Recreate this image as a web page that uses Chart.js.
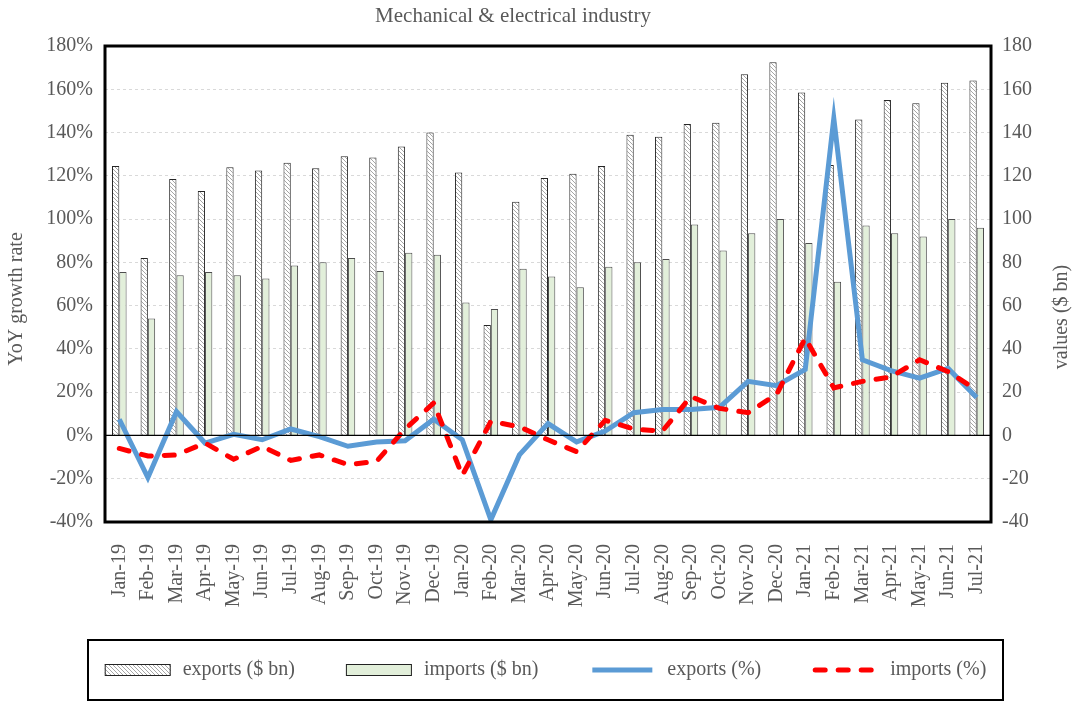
<!DOCTYPE html>
<html>
<head>
<meta charset="utf-8">
<title>Mechanical & electrical industry</title>
<script src="https://cdn.jsdelivr.net/npm/chart.js@4/dist/chart.umd.min.js"></script>
<style>
  body { margin: 0; background: #fff; }
  canvas { display: block; }
</style>
</head>
<body>
<canvas id="chart" width="1081" height="701"></canvas>
<script>
// Data
const months = ['Jan-19', 'Feb-19', 'Mar-19', 'Apr-19', 'May-19', 'Jun-19', 'Jul-19', 'Aug-19', 'Sep-19', 'Oct-19', 'Nov-19', 'Dec-19',
  'Jan-20', 'Feb-20', 'Mar-20', 'Apr-20', 'May-20', 'Jun-20', 'Jul-20', 'Aug-20', 'Sep-20', 'Oct-20', 'Nov-20', 'Dec-20',
  'Jan-21', 'Feb-21', 'Mar-21', 'Apr-21', 'May-21', 'Jun-21', 'Jul-21']
const exportsBn = [124.5, 82, 118.5, 113, 124, 122.5, 126, 123.5, 129, 128.5, 133.5, 140, 121.5, 51, 108, 119, 121, 124.5, 139, 138, 144, 144.5, 167, 172.5, 158.5, 125, 146, 155, 153.5, 163, 164]
const importsBn = [75.5, 54, 74, 75.5, 74, 72.5, 78.5, 80, 82, 76, 84.5, 83.5, 61.5, 58.5, 77, 73.5, 68.5, 78, 80, 81.5, 97.5, 85.5, 93.5, 100, 89, 71, 97, 93.5, 92, 100, 96]
const exportsPct = [7.5, -19.5, 11, -3.5, 0.5, -2, 3, -0.5, -5, -3, -2.5, 7.5, -2, -39, -9, 5.5, -3, 2, 10.5, 12, 12, 13, 25, 23, 30.5, 146.5, 35, 30, 26.5, 31, 17.5]
const importsPct = [-6, -9.5, -9, -3.5, -11, -5, -11.5, -9, -13.5, -12, 3, 15, -18.5, 6.5, 4, -2, -7.5, 7, 3, 2, 18, 12.5, 10.5, 19, 45, 22, 25, 27, 35, 29.5, 21]

const axisMin = -40
const axisMax = 180
const axisStep = 20

const FONT = "'Liberation Serif', 'Times New Roman', serif"
const GREY = '#595959'

// diagonal hatch for the exports bars
function hatchPattern() {
  const c = document.createElement('canvas')
  c.width = 4
  c.height = 4
  const g = c.getContext('2d')
  g.fillStyle = '#fff'
  g.fillRect(0, 0, 4, 4)
  g.strokeStyle = '#a6a6a6'
  g.lineWidth = 1
  g.beginPath()
  g.moveTo(-1, -1); g.lineTo(5, 5)
  g.moveTo(-1, 3); g.lineTo(1, 5)
  g.moveTo(3, -1); g.lineTo(5, 1)
  g.stroke()
  return g.createPattern(c, 'repeat')
}
const hatch = hatchPattern()

// title, axis titles, plot frame and zero line
const framePlugin = {
  id: 'frame',
  afterDraw(chart) {
    const ctx = chart.ctx
    const area = chart.chartArea
    const y0 = chart.scales.yPct.getPixelForValue(0)
    ctx.save()
    ctx.strokeStyle = '#000'
    ctx.lineWidth = 1.2
    ctx.beginPath()
    ctx.moveTo(area.left, y0)
    ctx.lineTo(area.right, y0)
    ctx.stroke()
    ctx.lineWidth = 3
    ctx.strokeRect(area.left, area.top, area.right - area.left, area.bottom - area.top)

    ctx.fillStyle = GREY
    ctx.font = '21px ' + FONT
    ctx.textAlign = 'center'
    ctx.textBaseline = 'middle'
    ctx.fillText('Mechanical & electrical industry', 513, 16)

    // both axis titles read bottom to top
    ctx.font = '20px ' + FONT
    const titles = [['YoY growth rate', 17, 299], ['values ($ bn)', 1062, 317]]
    titles.forEach(t => {
      ctx.save()
      ctx.translate(t[1], t[2])
      ctx.rotate(-Math.PI / 2)
      ctx.fillText(t[0], 0, 0)
      ctx.restore()
    })
    ctx.restore()
  },
  beforeDatasetsDraw(chart) {
    // keep lines inside the frame
    const area = chart.chartArea
    chart.ctx.save()
    chart.ctx.beginPath()
    chart.ctx.rect(area.left, area.top, area.right - area.left, area.bottom - area.top)
    chart.ctx.clip()
  },
  afterDatasetsDraw(chart) {
    chart.ctx.restore()
  }
}

// boxed legend under the chart, styled from the datasets
const legendPlugin = {
  id: 'boxLegend',
  afterDraw(chart) {
    const ctx = chart.ctx
    const area = chart.chartArea
    const box = {left: area.left - 17, right: area.right + 12, top: chart.height - 61, bottom: chart.height - 1}
    const symW = 66
    const gapText = 12
    const gapItem = 51
    ctx.save()
    ctx.font = '20px ' + FONT
    const items = [0, 1, 2, 3].map(i => chart.data.datasets[i])
    const widths = items.map(d => ctx.measureText(d.label).width)
    let total = 0
    widths.forEach(w => { total += symW + gapText + w })
    total += gapItem * (items.length - 1)
    let x = (box.left + box.right) / 2 - total / 2
    const yMid = (box.top + box.bottom) / 2

    ctx.strokeStyle = '#000'
    ctx.lineWidth = 2
    ctx.strokeRect(box.left, box.top, box.right - box.left, box.bottom - box.top)

    items.forEach((d, i) => {
      if (d.type === 'bar') {
        ctx.fillStyle = d.backgroundColor
        ctx.fillRect(x, yMid - 6, symW, 12)
        ctx.strokeStyle = '#222'
        ctx.lineWidth = 1
        ctx.strokeRect(x + 0.5, yMid - 5.5, symW - 1, 11)
      } else {
        ctx.strokeStyle = d.borderColor
        ctx.lineWidth = d.borderWidth
        ctx.lineCap = d.borderCapStyle || 'butt'
        ctx.setLineDash(d.borderDash || [])
        ctx.beginPath()
        ctx.moveTo(x + 3, yMid)
        ctx.lineTo(x + symW - 3, yMid)
        ctx.stroke()
        ctx.setLineDash([])
      }
      ctx.fillStyle = GREY
      ctx.textAlign = 'left'
      ctx.textBaseline = 'middle'
      ctx.fillText(d.label, x + symW + gapText, yMid)
      x += symW + gapText + widths[i] + gapItem
    })
    ctx.restore()
  }
}

const config = {
  data: {
    labels: months,
    datasets: [
      {
        type: 'bar',
        label: 'exports ($ bn)',
        data: exportsBn,
        yAxisID: 'yVal',
        backgroundColor: hatch,
        borderColor: '#262626',
        borderWidth: 1,
        categoryPercentage: 0.51,
        barPercentage: 1,
        order: 2
      },
      {
        type: 'bar',
        label: 'imports ($ bn)',
        data: importsBn,
        yAxisID: 'yVal',
        backgroundColor: '#e2efda',
        borderColor: '#4d4d4d',
        borderWidth: 1,
        categoryPercentage: 0.51,
        barPercentage: 1,
        order: 2
      },
      {
        type: 'line',
        label: 'exports (%)',
        data: exportsPct,
        yAxisID: 'yPct',
        borderColor: '#5b9bd5',
        backgroundColor: '#5b9bd5',
        borderWidth: 5,
        pointRadius: 0,
        tension: 0,
        order: 1
      },
      {
        type: 'line',
        label: 'imports (%)',
        data: importsPct,
        yAxisID: 'yPct',
        borderColor: '#ff0000',
        backgroundColor: '#ff0000',
        borderWidth: 5,
        borderDash: [10, 13],
        borderCapStyle: 'round',
        pointRadius: 0,
        tension: 0,
        order: 0
      }
    ]
  },
  options: {
    responsive: false,
    devicePixelRatio: 1,
    animation: false,
    layout: {
      padding: {top: 46, bottom: 62, left: 0, right: 0}
    },
    plugins: {
      legend: {display: false},
      title: {display: false},
      tooltip: {enabled: false}
    },
    scales: {
      x: {
        type: 'category',
        offset: true,
        grid: {display: false},
        border: {display: false},
        ticks: {
          color: GREY,
          font: {family: FONT, size: 20},
          minRotation: 90,
          maxRotation: 90,
          autoSkip: false,
          padding: 14
        },
        afterFit(scale) { scale.height = 117 }
      },
      yPct: {
        type: 'linear',
        position: 'left',
        min: axisMin,
        max: axisMax,
        grid: {color: '#d9d9d9', lineWidth: 1, drawTicks: false},
        border: {display: false, dash: [3, 3]},
        ticks: {
          stepSize: axisStep,
          color: GREY,
          font: {family: FONT, size: 20},
          padding: 12,
          callback: function(value) {
            return value + '%'
          }
        },
        afterFit(scale) { scale.width = 105 }
      },
      yVal: {
        type: 'linear',
        position: 'right',
        min: axisMin,
        max: axisMax,
        grid: {display: false, drawTicks: false},
        border: {display: false},
        ticks: {
          stepSize: axisStep,
          color: GREY,
          font: {family: FONT, size: 20},
          padding: 11
        },
        afterFit(scale) { scale.width = 90 }
      }
    }
  },
  plugins: [framePlugin, legendPlugin]
}

const chart = new Chart(document.getElementById('chart').getContext('2d'), config)
</script>
</body>
</html>
